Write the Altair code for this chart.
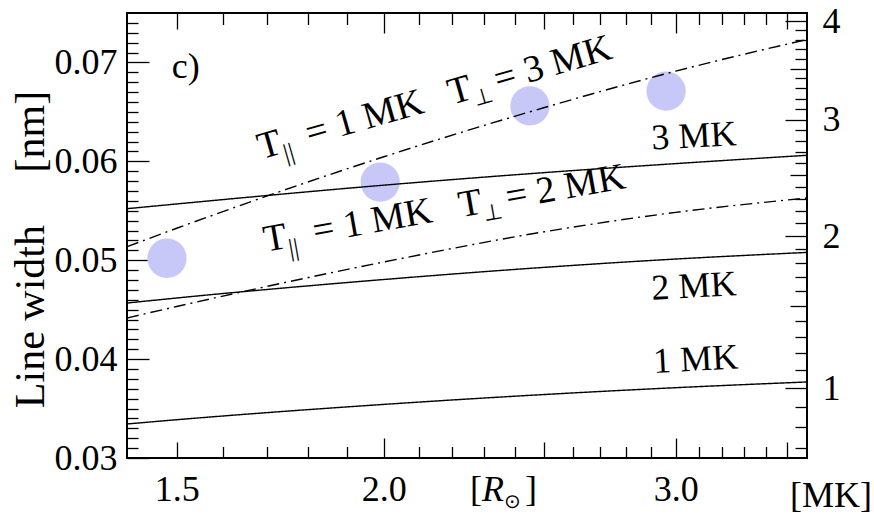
import altair as alt
import pandas as pd

# ---------------- data ----------------
r_grid = [1.4, 1.5, 2.0, 2.5, 3.0, 3.6]                      # heliocentric distance [R_sun]
width_1MK = [0.03344, 0.03387, 0.03542, 0.03642, 0.03711, 0.03769]
width_2MK = [0.04567, 0.04618, 0.04805, 0.04928, 0.05012, 0.05079]
width_3MK = [0.05521, 0.05569, 0.05759, 0.05886, 0.05977, 0.06061]
width_par1_perp2 = [0.04416, 0.04532, 0.04982, 0.05288, 0.05484, 0.05629]
width_par1_perp3 = [0.05137, 0.05323, 0.06046, 0.06544, 0.06912, 0.07232]

obs_r = [1.48, 1.99, 2.45, 2.96]
obs_width = [0.0502, 0.0579, 0.0656, 0.0671]

series_names = ["1 MK", "2 MK", "3 MK", "T_par=1 T_perp=2", "T_par=1 T_perp=3"]
series_values = [width_1MK, width_2MK, width_3MK, width_par1_perp2, width_par1_perp3]

x_label_values = [1.5, 2.0, 3.0]
x_long_ticks = [2.0, 3.0]
x_mid_ticks = [1.5, 2.5, 3.5]
x_minor_ticks = [1.6, 1.7, 1.8, 1.9, 2.1, 2.2, 2.3, 2.4, 2.6, 2.7, 2.8, 2.9,
                 3.1, 3.2, 3.3, 3.4]
y_major_ticks = [0.03, 0.04, 0.05, 0.06, 0.07]
y_minor_ticks = [round(0.03 + i * 0.001, 3) for i in range(1, 45) if i % 10 != 0]
t_major_ticks = [1, 2, 3, 4]
t_mid_ticks = [1.5, 2.5, 3.5]
t_minor_ticks = [0.7, 0.8, 0.9, 1.1, 1.2, 1.3, 1.4, 1.6, 1.7, 1.8, 1.9,
                 2.1, 2.2, 2.3, 2.4, 2.6, 2.7, 2.8, 2.9,
                 3.1, 3.2, 3.3, 3.4, 3.6, 3.7, 3.8, 3.9]

curve_labels = ["3 MK", "2 MK", "1 MK"]
curve_label_r = [3.077, 3.077, 3.084]
curve_label_w = [0.06252, 0.04735, 0.03994]

ann_r = [1.6875, 1.6977]
ann_w = [0.0602, 0.05086]
ann_angle = [344, 350]
ann_tail = ["= 3 MK", "= 2 MK"]

# ---------------- tables ----------------
rows = []
for name, vals in zip(series_names, series_values):
    for r, w in zip(r_grid, vals):
        rows.append({"r": r, "w": w, "series": name})
lines_df = pd.DataFrame(rows)
obs_df = pd.DataFrame({"r": obs_r, "w": obs_width})
t_df = pd.DataFrame({"T": t_major_ticks})

FONT = "Liberation Serif"
FS = 36
AFS = 38
NB = "\u00a0"
XS = alt.Scale(type="log", domain=[1.4, 3.6], nice=False)
YS = alt.Scale(domain=[0.03, 0.075], nice=False, zero=False)
TS = alt.Scale(type="sqrt", domain=[0.655, 4.09], nice=False, zero=False)


def tick_axis(orient, values, size):
    return alt.Axis(orient=orient, values=values, tickSize=size, offset=-size,
                    labels=False, domain=False, grid=False, title=None,
                    ticks=True, tickColor="black", tickWidth=1.3)


def label_axis(orient, values, fmt, pad, title=None, **kw):
    return alt.Axis(orient=orient, values=values, ticks=False, tickSize=0,
                    domain=False, grid=False, labels=True, format=fmt,
                    labelPadding=pad, labelFont=FONT, labelFontSize=FS,
                    labelColor="black", labelOverlap=False, labelFlush=False,
                    labelBound=False, title=title, **kw)


def xy_layer(xaxis, yaxis):
    return alt.Chart(lines_df).mark_point(opacity=0).encode(
        x=alt.X("r:Q", scale=XS, axis=xaxis),
        y=alt.Y("w:Q", scale=YS, axis=yaxis),
    )


def t_layer(taxis):
    return alt.Chart(t_df).mark_point(opacity=0).encode(
        y=alt.Y("T:Q", scale=TS, axis=taxis)
    )


circles = alt.Chart(obs_df).mark_circle(size=1545, color="#c8c8f8", opacity=1).encode(
    x=alt.X("r:Q", scale=XS, axis=None),
    y=alt.Y("w:Q", scale=YS, axis=None),
)

lines = alt.Chart(lines_df).mark_line(color="black", strokeWidth=1.4, interpolate="monotone").encode(
    x=alt.X("r:Q", scale=XS, axis=None),
    y=alt.Y("w:Q", scale=YS, axis=None),
    detail="series:N",
    strokeDash=alt.StrokeDash("series:N", legend=None, scale=alt.Scale(
        domain=series_names,
        range=[[1, 0], [1, 0], [1, 0], [12, 5, 2, 5], [12, 5, 2, 5]])),
)

curve_lab_df = pd.DataFrame({"r": curve_label_r, "w": curve_label_w, "t": curve_labels})
curve_text = alt.Chart(curve_lab_df).mark_text(
    font=FONT, fontSize=FS, angle=357, align="center", baseline="middle", color="black"
).encode(x=alt.X("r:Q", scale=XS, axis=None), y=alt.Y("w:Q", scale=YS, axis=None), text="t:N")

panel_df = pd.DataFrame({"r": [1.519], "w": [0.06957], "t": ["c)"]})
panel_text = alt.Chart(panel_df).mark_text(
    font=FONT, fontSize=FS, align="center", baseline="middle", color="black"
).encode(x=alt.X("r:Q", scale=XS, axis=None), y=alt.Y("w:Q", scale=YS, axis=None), text="t:N")

ann_df = pd.DataFrame({"r": ann_r, "w": ann_w, "angle": ann_angle, "tail": ann_tail})
ann_segments = [
    ("T", 0, 0, AFS, FONT),
    ("||", 23, 9, 25, FONT),
    ("= 1 MK", 50, 0, AFS, FONT),
    ("T", 198, 0, AFS, FONT),
    ("\u22a5", 221, 8, 22, "DejaVu Sans"),
    (None, 246, 0, AFS, FONT),
]
ann_layers = []
for txt, dx, dy, size, font in ann_segments:
    enc = dict(
        x=alt.X("r:Q", scale=XS, axis=None),
        y=alt.Y("w:Q", scale=YS, axis=None),
        angle=alt.Angle("angle:Q", scale=None),
    )
    if txt is None:
        enc["text"] = alt.Text("tail:N")
    else:
        enc["text"] = alt.value(txt)
    ann_layers.append(
        alt.Chart(ann_df).mark_text(font=font, fontSize=size, align="left",
                                    baseline="alphabetic", dx=dx, dy=dy, color="black")
        .encode(**enc)
    )

# unit labels under the axes (pixel positions relative to the plot area)
unit_df = pd.DataFrame({"k": [0]})
unit_parts = [
    ("[", 343, 488, FS, "normal", FONT),
    ("R", 355, 488, FS, "italic", FONT),
    ("\u2299", 377, 495, 20, "normal", "DejaVu Sans"),
    ("]", 398, 488, FS, "normal", FONT),
    ("[MK]", 663, 494, FS, "normal", FONT),
]
unit_layers = []
for txt, px, py, size, style, font in unit_parts:
    unit_layers.append(
        alt.Chart(unit_df).mark_text(font=font, fontSize=size, fontStyle=style,
                                     align="left", baseline="alphabetic", color="black")
        .encode(x=alt.value(px), y=alt.value(py), text=alt.value(txt))
    )

y_title = "Line" + NB + "width" + NB * 5 + "[nm]"

axes_layers = [
    xy_layer(tick_axis("bottom", x_long_ticks, 20), tick_axis("left", y_major_ticks, 22)),
    xy_layer(tick_axis("bottom", x_mid_ticks, 16), tick_axis("left", y_minor_ticks, 11)),
    xy_layer(tick_axis("bottom", x_minor_ticks, 11.5),
             label_axis("left", y_major_ticks, ".2f", 10,
                        title=y_title, titleFont=FONT, titleFontSize=42,
                        titleFontWeight="normal", titleColor="black",
                        titleX=-97, titleY=236, titleAngle=270,
                        titleAlign="center", titleBaseline="middle")),
    xy_layer(tick_axis("top", x_long_ticks, 20), None),
    xy_layer(tick_axis("top", x_mid_ticks, 16), None),
    xy_layer(tick_axis("top", x_minor_ticks, 11.5), None),
    xy_layer(label_axis("bottom", x_label_values, ".1f", 14), None),
    t_layer(tick_axis("right", t_major_ticks, 22)),
    t_layer(tick_axis("right", t_mid_ticks, 17)),
    t_layer(tick_axis("right", t_minor_ticks, 12)),
    t_layer(label_axis("right", t_major_ticks, "d", 15)),
]

chart = alt.layer(
    circles, lines, curve_text, panel_text, *ann_layers, *unit_layers, *axes_layers
).resolve_scale(
    x="independent", y="independent"
).resolve_axis(
    x="independent", y="independent"
).properties(
    width=680, height=445,
    autosize=alt.AutoSizeParams(type="none"),
    padding={"left": 127, "top": 13, "right": 67, "bottom": 59},
    background="white",
).configure_view(
    stroke="black", strokeWidth=2
)

chart.save("out.html", embed_options={"renderer": "svg", "actions": False})
